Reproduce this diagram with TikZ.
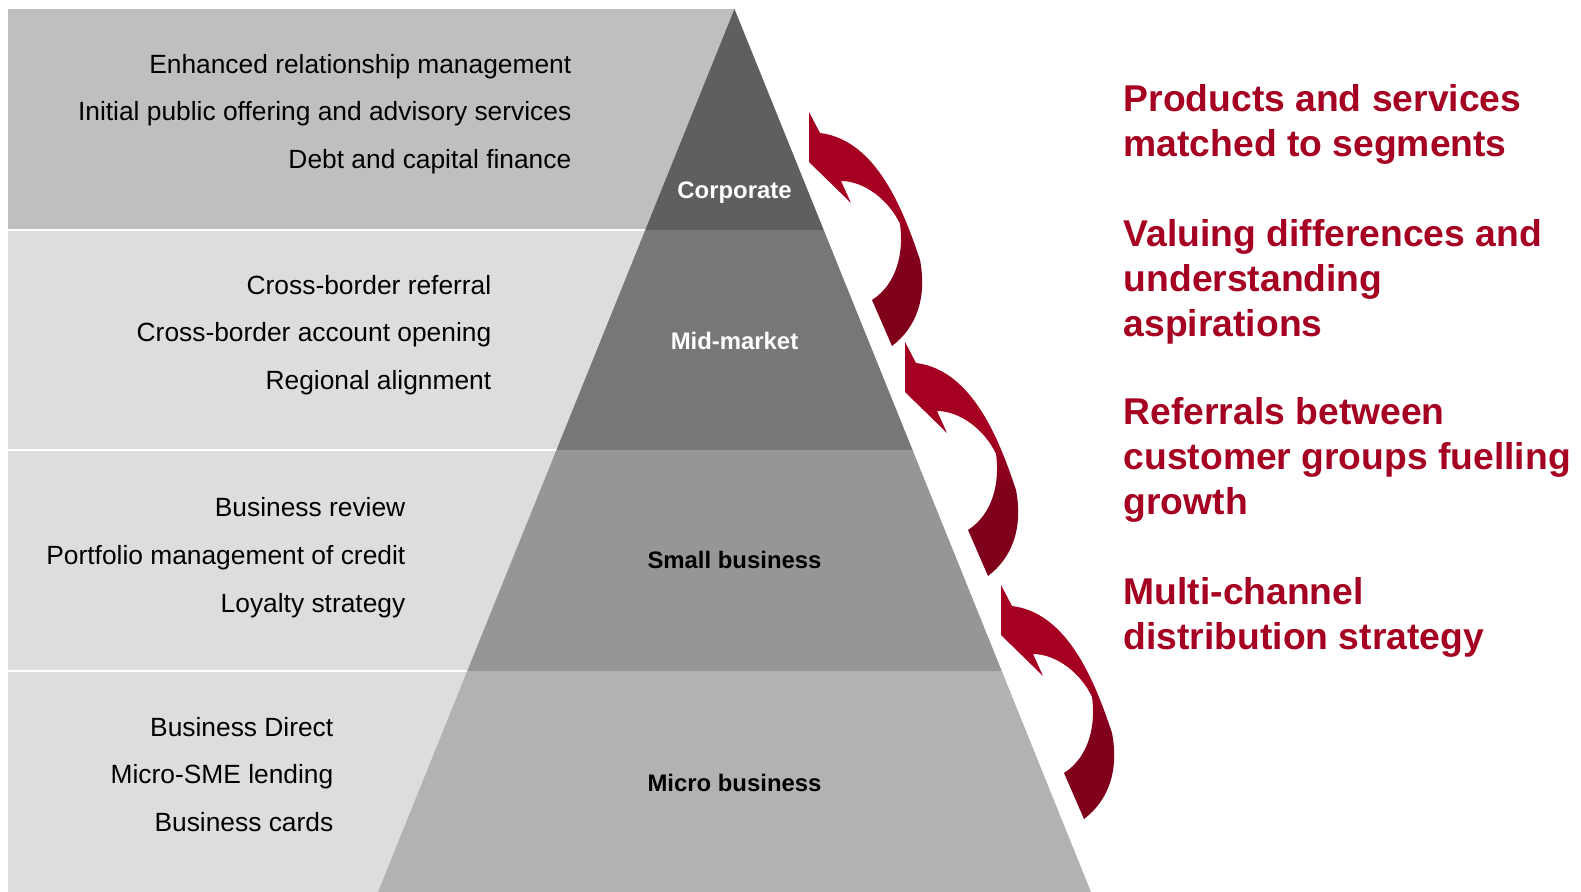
\documentclass[tikz,border=0pt]{standalone}
\usepackage{fontspec}
\setmainfont{Liberation Sans}
\definecolor{bandtop}{HTML}{BFBFBF}
\definecolor{bandlight}{HTML}{DDDDDD}
\definecolor{tierA}{HTML}{5F5F5F}
\definecolor{tierB}{HTML}{777777}
\definecolor{tierC}{HTML}{969696}
\definecolor{tierD}{HTML}{B2B2B2}
\definecolor{claimred}{HTML}{A50021}
\definecolor{arrowdark}{HTML}{80001C}
% dark lower half, bright upper half, short blend at the twist
\pgfdeclareverticalshading{ribbon}{100bp}{color(0bp)=(arrowdark); color(44bp)=(arrowdark);
	color(54bp)=(claimred); color(100bp)=(claimred)}
\begin{document}
\begin{tikzpicture}[x=0.1mm, y=-0.1mm,
  item/.style={anchor=base east, inner sep=0pt, font=\fontsize{7.5}{9}\selectfont},
  tier/.style={anchor=base, inner sep=0pt, font=\fontsize{6.8}{8}\selectfont\bfseries},
  claim/.style={anchor=base west, inner sep=0pt, text=claimred, font=\fontsize{10.6}{12}\selectfont\bfseries}]
\useasboundingbox (0,0) rectangle (1581,892);
% grey bands behind the pyramid
\fill[bandtop] (8,9) rectangle (735,229.75);
\foreach \y in {229.75, 450.5, 671.25}
{
	\fill[bandlight] (8,\y) rectangle (735,{\y+220.75});
	\draw[white, line width=0.2mm] (8,\y) -- (735,\y);
}
% pyramid, cut into four tiers
\begin{scope}
\clip (734.5,9) -- (378,892) -- (1091,892) -- cycle;
\foreach \y/\col in {9/tierA, 229.75/tierB, 450.5/tierC, 671.25/tierD}
	\fill[\col] (370,\y) rectangle (1100,{\y+220.75});
\end{scope}
\node[tier, text=white] (corp) at (734.5,199) {Corporate};
\node[tier, text=white] (mid) at (734.5,350) {Mid-market};
\node[tier] (small) at (734.5,569) {Small business};
\node[tier] (micro) at (734.5,791) {Micro business};
% offerings per tier
\foreach \t [count=\i] in {Enhanced relationship management, Initial public offering and advisory services, Debt and capital finance}
	\node[item] (corp\i) at (572,{73.3+47.7*(\i-1)}) {\t};
\foreach \t [count=\i] in {Cross-border referral, Cross-border account opening, Regional alignment}
	\node[item] (mid\i) at (492,{294.3+47.7*(\i-1)}) {\t};
\foreach \t [count=\i] in {Business review, Portfolio management of credit, Loyalty strategy}
	\node[item] (small\i) at (406,{517+47.7*(\i-1)}) {\t};
\foreach \t [count=\i] in {Business Direct, Micro-SME lending, Business cards}
	\node[item] (micro\i) at (334,{736+47.7*(\i-1)}) {\t};
% curved arrows along the right flank
\foreach \tx/\ty [count=\i] in {809/112, 905/342, 1001/585}
	\shade[shading=ribbon, shift={(\tx,\ty)}]
		(0,0) -- (0,50) -- (42,91) -- (32,69)
		.. controls (55,69) and (80,88) .. (91,112)
		.. controls (95,140) and (88,172) .. (63,188)
		-- (83,234)
		.. controls (108,215) and (118,185) .. (111,148)
		.. controls (95,100) and (68,28) .. (11,21) -- cycle;
% claims
\foreach \y/\t [count=\i] in {111.7/Products and services, 156.7/matched to segments,
	247/Valuing differences and, 292/understanding, 337/aspirations,
	425/Referrals between, 470/customer groups fuelling, 515/growth,
	604/Multi-channel, 649/distribution strategy}
	\node[claim] (claim\i) at (1123,\y) {\t};
\end{tikzpicture}
\end{document}
